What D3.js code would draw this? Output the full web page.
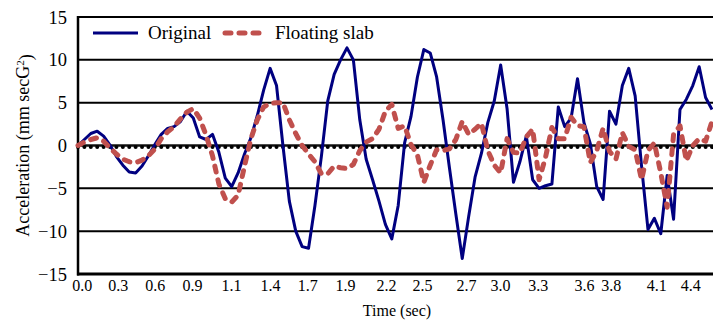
<!DOCTYPE html>
<html>
<head>
<meta charset="utf-8">
<script src="https://cdn.jsdelivr.net/npm/d3@7"></script>
<style>
  body { margin: 0; background: #fff; }
  text { font-family: "Liberation Serif", "Times New Roman", serif; fill: #000; }
</style>
</head>
<body>
<svg id="chart" width="713" height="325"></svg>
<script>
// Acceleration samples (mm sec^-2), one value per time step
const original = [
  0, 0.7, 1.4, 1.67, 1.1, 0.05, -1.3, -2.3, -3.1, -3.2,
  -2.4, -1.2, 0.1, 1.3, 2.0, 2.2, 2.8, 4.0, 3.2, 1.0,
  0.7, 1.3, -0.8, -3.8, -4.8, -3.2, -1.0, 0.9, 3.5, 6.5,
  9.0, 7.0, 0.0, -6.5, -10.0, -11.8, -12.0, -7.0, -1.3, 5.2,
  8.3, 10.0, 11.4, 10.0, 3.0, -1.6, -4.0, -6.5, -9.2, -10.9,
  -7.0, 0.3, 3.4, 8.0, 11.2, 10.8, 8.0, 3.0, -2.6, -8.0,
  -13.2, -8.3, -3.7, -0.9, 2.7, 5.2, 9.4, 4.3, -4.3, -1.9,
  1.1, -4.0, -5.0, -4.7, -4.5, 4.5, 2.2, 3.2, 7.8, 2.7,
  0.2, -4.8, -6.3, 4.0, 2.5, 7.0, 9.0, 5.8, -2.4, -9.8,
  -8.5, -10.3, -3.5, -8.6, 4.2, 5.4, 7.0, 9.2, 5.6, 4.2
];
const floating = [
  0.0, 0.4, 0.7, 0.9, 0.5, -0.3, -1.0, -1.6, -1.9, -2.0,
  -1.7, -1.2, -0.4, 0.8, 1.6, 2.2, 3.1, 3.9, 4.3, 3.2,
  1.2, -1.2, -4.5, -6.2, -6.6, -5.8, -2.4, 0.8, 3.0, 4.5,
  4.9, 5.0, 5.0, 3.0, 1.4, 0.0, -1.0, -1.9, -3.3, -3.3,
  -2.4, -2.6, -2.7, -2.2, -0.6, 0.4, 0.8, 1.9, 4.0, 4.8,
  2.0, 2.3, 0.1, -1.1, -4.3, -2.3, -0.5, -0.6, -0.4, 0.7,
  2.8, 1.3, 1.9, 2.6, -0.6, -2.3, -3.2, 0.8, -0.8, -0.9,
  1.0, 1.9, -4.0, -1.4, 2.1, 0.8, 0.8, 3.3, 2.3, 2.2,
  -2.0, -0.6, 2.0, -0.7, -1.6, 1.5, -0.1, -0.5, -4.0, -0.6,
  0.3, -3.2, -7.2, 1.3, 2.3, -1.8, 0.0, 0.8, 0.5, 2.8
];
// Time labels and the sample step each one sits under
const tickLabels = ["0.0","0.3","0.6","0.9","1.1","1.4","1.7","1.9","2.2","2.5","2.7","3.0","3.3","3.6","3.8","4.1","4.4"];
const tickAt = [0.6, 6.2, 12.0, 17.8, 23.9, 30.0, 35.8, 41.7, 48.1, 53.7, 60.6, 65.9, 71.8, 79.0, 83.2, 90.3, 95.6];
const yTicks = [-15, -10, -5, 0, 5, 10, 15];
const seriesNames = ["Original", "Floating slab"];

const svg = d3.select("#chart");
const plot = { left: 78, right: 712, top: 17, bottom: 274 };

const x = d3.scaleLinear().domain([0, original.length - 1]).range([plot.left, plot.right]);
const y = d3.scaleLinear().domain([-15, 15]).range([plot.bottom, plot.top]);

// horizontal gridlines
svg.append("g")
  .selectAll("line")
  .data(yTicks.filter(d => d !== -15 && d !== 0))
  .join("line")
  .attr("x1", plot.left).attr("x2", 713)
  .attr("y1", d => y(d)).attr("y2", d => y(d))
  .attr("stroke", "#000").attr("stroke-width", 2);

// zero baseline with small markers at each step
const zeros = original.map(() => 0);
svg.append("line")
  .attr("x1", plot.left).attr("x2", 713)
  .attr("y1", y(0)).attr("y2", y(0))
  .attr("stroke", "#111").attr("stroke-width", 2.5);
svg.append("g")
  .selectAll("circle")
  .data(zeros)
  .join("circle")
  .attr("cx", (d, i) => x(i))
  .attr("cy", d => y(d) + 1.6)
  .attr("r", 2)
  .attr("fill", "#000");

// axes
const yAxis = svg.append("g")
  .attr("transform", `translate(${plot.left},0)`)
  .call(d3.axisLeft(y).tickValues(yTicks).tickSize(0).tickPadding(11));
yAxis.select(".domain").remove();
yAxis.selectAll("text").style("font-size", "18.5px").attr("dy", "0.33em");

const xAxis = svg.append("g")
  .attr("transform", `translate(0,${plot.bottom})`)
  .call(d3.axisBottom(x).tickValues(tickAt).tickFormat((d, i) => tickLabels[i]).tickSize(0).tickPadding(6));
xAxis.select(".domain").remove();
xAxis.selectAll("text").style("font-size", "16px");

svg.append("line")
  .attr("x1", plot.left).attr("x2", plot.left)
  .attr("y1", plot.top - 1).attr("y2", plot.bottom + 1.5)
  .attr("stroke", "#000").attr("stroke-width", 2.5);
svg.append("line")
  .attr("x1", plot.left - 1).attr("x2", 713)
  .attr("y1", plot.bottom).attr("y2", plot.bottom)
  .attr("stroke", "#000").attr("stroke-width", 3);
svg.append("line")
  .attr("x1", plot.left).attr("x2", 713)
  .attr("y1", y(15)).attr("y2", y(15))
  .attr("stroke", "#000").attr("stroke-width", 2);

// series
const line = d3.line().x((d, i) => x(i)).y(d => y(d));
svg.append("path")
  .datum(original)
  .attr("d", line)
  .attr("fill", "none")
  .attr("stroke", "#000080")
  .attr("stroke-width", 3)
  .attr("stroke-linejoin", "round");
svg.append("path")
  .datum(floating)
  .attr("d", line)
  .attr("fill", "none")
  .attr("stroke", "#C0504D")
  .attr("stroke-width", 5)
  .attr("stroke-dasharray", "6,8")
  .attr("stroke-linecap", "round")
  .attr("stroke-linejoin", "round");

// legend
const legend = svg.append("g");
legend.append("line")
  .attr("x1", 93).attr("x2", 138).attr("y1", 33).attr("y2", 33)
  .attr("stroke", "#000080").attr("stroke-width", 3);
legend.append("text")
  .attr("x", 148).attr("y", 39)
  .style("font-size", "19px")
  .text(seriesNames[0]);
legend.append("line")
  .attr("x1", 225).attr("x2", 261).attr("y1", 33).attr("y2", 33)
  .attr("stroke", "#C0504D").attr("stroke-width", 5)
  .attr("stroke-dasharray", "6,8").attr("stroke-linecap", "round");
legend.append("text")
  .attr("x", 275).attr("y", 39)
  .style("font-size", "19px")
  .text(seriesNames[1]);

// axis titles
svg.append("text")
  .attr("x", 397).attr("y", 316)
  .attr("text-anchor", "middle")
  .style("font-size", "16px")
  .text("Time (sec)");

const yTitle = svg.append("text")
  .attr("transform", `translate(29,${(plot.top + plot.bottom) / 2}) rotate(-90)`)
  .attr("text-anchor", "middle")
  .style("font-size", "18px");
yTitle.append("tspan").text("Acceleration (mm secG");
yTitle.append("tspan").attr("dy", "-0.45em").style("font-size", "11px").text("2");
yTitle.append("tspan").attr("dy", "0.45em").text(")");
</script>
</body>
</html>
